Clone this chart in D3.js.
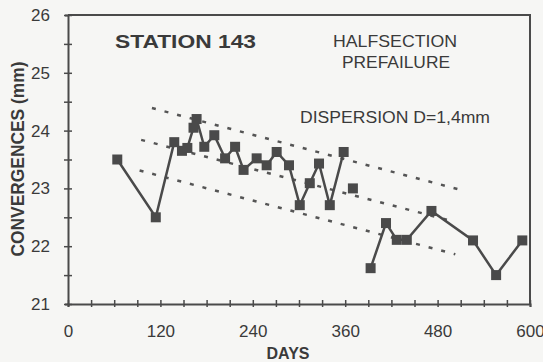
<!DOCTYPE html>
<html>
<head>
<meta charset="utf-8">
<script src="https://cdn.jsdelivr.net/npm/d3@7"></script>
<style>
  body { margin: 0; background: #f6f6f4; }
  text { font-family: "Liberation Sans", Arial, sans-serif; fill: #3a3a3a; }
</style>
</head>
<body>
<div class="chart"></div>
<script>
// measured points, run = which connected piece of line the point belongs to
var days   = [64, 114, 138, 148, 155, 163, 167, 177, 190, 204, 217, 228, 245, 258, 271,
              287, 301, 314, 326, 340, 358, 370, 393, 413, 427, 440, 472, 526, 556, 590]
  , values = [23.5, 22.5, 23.8, 23.65, 23.7, 24.05, 24.2, 23.72, 23.92, 23.52, 23.72, 23.32, 23.52, 23.4, 23.63,
              23.4, 22.71, 23.09, 23.43, 22.71, 23.63, 23.0, 21.62, 22.4, 22.11, 22.11, 22.61, 22.1, 21.5, 22.1]
  , runs   = [0, 0, 0, 0, 0, 0, 0, 0, 0, 0, 0, 0, 0, 0, 0,
              0, 0, 0, 0, 0, 0, 1, 2, 2, 2, 2, 2, 2, 2, 2];

// dispersion band (upper, middle, lower)
var bandStart = [109, 95, 93]
  , bandEnd = [514, 503, 503]
  , bandStartVal = [24.39, 23.84, 23.31]
  , bandEndVal = [22.96, 22.42, 21.86];

var xTicks = d3.range(0, 601, 30)
  , yTicks = d3.range(21, 26.01, 0.5);

var w = 543
  , h = 362
  , ink = '#4a4a4a';

var svg = d3.select('.chart')
            .append('svg')
            .attr('width', w)
            .attr('height', h);

var x = d3.scaleLinear().domain([0, 600]).range([68, 530])
  , y = d3.scaleLinear().domain([21, 26]).range([304, 15]);

// frame top + right
svg.append('path')
    .attr('d', 'M' + x(0) + ',' + y(26) + 'H' + x(600) + 'V' + y(21))
    .attr('fill', 'none')
    .attr('stroke', ink)
    .attr('stroke-width', 2);

var xAxis = svg.append('g')
    .attr('transform', 'translate(0,' + y(21) + ')')
    .call(d3.axisBottom(x)
      .tickValues(xTicks)
      .tickSize(3)
      .tickFormat(function (d) { return d % 120 === 0 ? d : ''; }));

var yAxis = svg.append('g')
    .attr('transform', 'translate(' + x(0) + ',0)')
    .call(d3.axisLeft(y)
      .tickValues(yTicks)
      .tickSize(3)
      .tickFormat(function (d) { return d % 1 === 0 ? d : ''; }));

[xAxis, yAxis].forEach(function (ax) {
  ax.select('.domain').attr('stroke', ink).attr('stroke-width', 2);
  ax.selectAll('.tick line').attr('stroke', ink).attr('stroke-width', 1.5);
  ax.selectAll('.tick text')
    .style('font-family', '"Liberation Sans", Arial, sans-serif')
    .style('font-size', '17px')
    .attr('fill', '#3a3a3a');
});

// ticks cross the axis line
xAxis.selectAll('.tick line').attr('y1', -4).attr('y2', 3);
yAxis.selectAll('.tick line').attr('x1', 4).attr('x2', -4);
xAxis.selectAll('.tick text').attr('y', 33).attr('dy', 0);
yAxis.selectAll('.tick text').attr('x', -18);

// dotted band lines
bandStart.forEach(function (d, i) {
  svg.append('line')
      .attr('x1', x(d))
      .attr('y1', y(bandStartVal[i]))
      .attr('x2', x(bandEnd[i]))
      .attr('y2', y(bandEndVal[i]))
      .attr('stroke', '#555')
      .attr('stroke-width', 2.5)
      .attr('stroke-dasharray', '4,9');
});

// data line, broken into runs
var pts = days.map(function (d, i) { return { d: d, v: values[i], r: runs[i] }; });
var grouped = d3.groups(pts, function (p) { return p.r; });

var line = d3.line()
    .x(function (p) { return x(p.d); })
    .y(function (p) { return y(p.v); });

svg.selectAll('path.run')
    .data(grouped)
    .enter()
    .append('path')
    .attr('class', 'run')
    .attr('d', function (g) { return line(g[1]); })
    .attr('fill', 'none')
    .attr('stroke', ink)
    .attr('stroke-width', 2.5);

svg.selectAll('rect.pt')
    .data(pts)
    .enter()
    .append('rect')
    .attr('class', 'pt')
    .attr('x', function (p) { return x(p.d) - 5; })
    .attr('y', function (p) { return y(p.v) - 5; })
    .attr('width', 10)
    .attr('height', 10)
    .attr('fill', ink);

// D arrow (lens shape spanning the band)
var ax0 = x(396)
  , top = y(23.38)
  , bot = y(22.24)
  , mid = (top + bot) / 2;
svg.append('path')
    .attr('d', 'M' + ax0 + ',' + top +
               'Q' + (ax0 - 12) + ',' + mid + ' ' + ax0 + ',' + bot +
               'Q' + (ax0 + 12) + ',' + mid + ' ' + ax0 + ',' + top + 'Z')
    .attr('fill', 'none')
    .attr('stroke', ink)
    .attr('stroke-width', 2);
svg.append('text')
    .attr('x', ax0 + 17)
    .attr('y', mid + 8)
    .attr('text-anchor', 'middle')
    .style('font-size', '19px')
    .style('font-weight', 'bold')
    .text('D');

// labels
svg.append('text')
    .attr('x', 115).attr('y', 48)
    .attr('textLength', 141).attr('lengthAdjust', 'spacingAndGlyphs')
    .style('font-size', '18px').style('font-weight', 'bold')
    .text('STATION 143');

svg.append('text')
    .attr('x', 333).attr('y', 47)
    .attr('textLength', 124).attr('lengthAdjust', 'spacingAndGlyphs')
    .style('font-size', '17px')
    .text('HALFSECTION');

svg.append('text')
    .attr('x', 342).attr('y', 68)
    .attr('textLength', 108).attr('lengthAdjust', 'spacingAndGlyphs')
    .style('font-size', '17px')
    .text('PREFAILURE');

svg.append('text')
    .attr('x', 300).attr('y', 123)
    .attr('textLength', 190).attr('lengthAdjust', 'spacingAndGlyphs')
    .style('font-size', '16px')
    .text('DISPERSION D=1,4mm');

svg.append('text')
    .attr('transform', 'translate(24,159) rotate(-90)')
    .attr('text-anchor', 'middle')
    .attr('textLength', 195).attr('lengthAdjust', 'spacingAndGlyphs')
    .style('font-size', '18px').style('font-weight', 'bold')
    .text('CONVERGENCES (mm)');

svg.append('text')
    .attr('x', 288).attr('y', 359)
    .attr('text-anchor', 'middle')
    .style('font-size', '16px').style('font-weight', 'bold')
    .text('DAYS');
</script>
</body>
</html>
